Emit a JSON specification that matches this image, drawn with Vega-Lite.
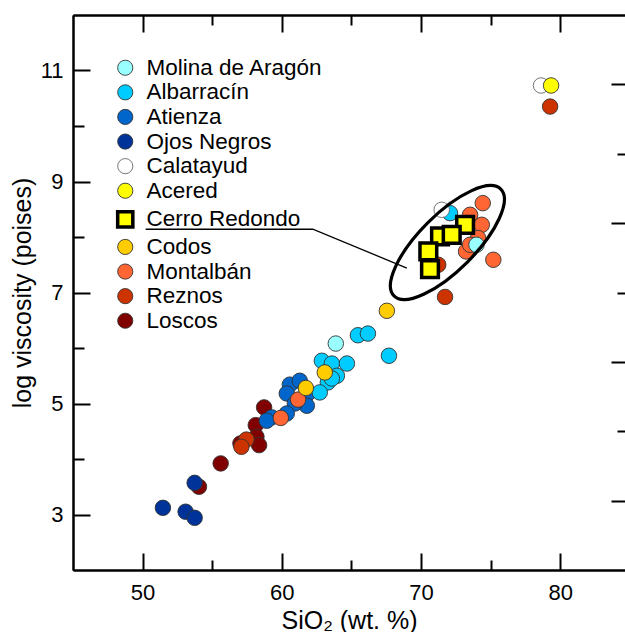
{
  "$schema": "https://vega.github.io/schema/vega-lite/v6.json",
  "width": 552,
  "height": 555,
  "autosize": "none",
  "padding": {"left": 73, "top": 15, "right": 0, "bottom": 62},
  "background": "white",
  "config": {
    "font": "Liberation Sans",
    "view": {"stroke": null},
    "axis": {
      "grid": false,
      "domainColor": "black",
      "domainWidth": 2,
      "tickColor": "black",
      "tickWidth": 2,
      "labelColor": "black",
      "labelFont": "Liberation Sans",
      "labelFontSize": 22,
      "titleFont": "Liberation Sans",
      "titleFontSize": 25,
      "titleFontWeight": "normal",
      "titleColor": "black"
    },
    "legend": {
      "orient": "none",
      "legendX": 41,
      "legendY": 41.5,
      "padding": 0,
      "labelFont": "Liberation Sans",
      "labelFontSize": 22.5,
      "labelColor": "black",
      "labelLimit": 0,
      "symbolSize": 230,
      "rowPadding": 1.6,
      "labelOffset": 10
    }
  },
  "datasets": {
    "circles": [
      {"site": "Loscos", "sio2": 58.73, "logv": 4.93},
      {"site": "Loscos", "sio2": 58.13, "logv": 4.61},
      {"site": "Loscos", "sio2": 58.18, "logv": 4.40},
      {"site": "Loscos", "sio2": 58.37, "logv": 4.25},
      {"site": "Loscos", "sio2": 57.03, "logv": 4.28},
      {"site": "Loscos", "sio2": 55.61, "logv": 3.92},
      {"site": "Loscos", "sio2": 54.05, "logv": 3.50},
      {"site": "Ojos Negros", "sio2": 53.74, "logv": 3.57},
      {"site": "Ojos Negros", "sio2": 51.46, "logv": 3.12},
      {"site": "Ojos Negros", "sio2": 53.09, "logv": 3.05},
      {"site": "Ojos Negros", "sio2": 53.74, "logv": 2.94},
      {"site": "Reznos", "sio2": 79.28, "logv": 10.35},
      {"site": "Reznos", "sio2": 71.24, "logv": 7.50},
      {"site": "Reznos", "sio2": 71.73, "logv": 6.92},
      {"site": "Reznos", "sio2": 57.46, "logv": 4.35},
      {"site": "Reznos", "sio2": 57.10, "logv": 4.22},
      {"site": "Atienza", "sio2": 60.58, "logv": 5.34},
      {"site": "Atienza", "sio2": 61.29, "logv": 5.41},
      {"site": "Atienza", "sio2": 60.36, "logv": 5.18},
      {"site": "Atienza", "sio2": 61.87, "logv": 5.18},
      {"site": "Atienza", "sio2": 61.80, "logv": 4.96},
      {"site": "Atienza", "sio2": 60.94, "logv": 5.00},
      {"site": "Atienza", "sio2": 59.28, "logv": 4.75},
      {"site": "Atienza", "sio2": 58.92, "logv": 4.69},
      {"site": "Atienza", "sio2": 60.36, "logv": 4.82},
      {"site": "Albarracín", "sio2": 72.09, "logv": 8.43},
      {"site": "Albarracín", "sio2": 65.47, "logv": 6.23},
      {"site": "Albarracín", "sio2": 66.19, "logv": 6.26},
      {"site": "Albarracín", "sio2": 67.70, "logv": 5.86},
      {"site": "Albarracín", "sio2": 62.88, "logv": 5.77},
      {"site": "Albarracín", "sio2": 63.60, "logv": 5.72},
      {"site": "Albarracín", "sio2": 64.68, "logv": 5.72},
      {"site": "Albarracín", "sio2": 63.96, "logv": 5.50},
      {"site": "Albarracín", "sio2": 63.31, "logv": 5.38},
      {"site": "Albarracín", "sio2": 62.73, "logv": 5.20},
      {"site": "Albarracín", "sio2": 63.60, "logv": 5.45},
      {"site": "Montalbán", "sio2": 74.44, "logv": 8.61},
      {"site": "Montalbán", "sio2": 73.53, "logv": 8.40},
      {"site": "Montalbán", "sio2": 74.37, "logv": 8.22},
      {"site": "Montalbán", "sio2": 74.11, "logv": 7.98},
      {"site": "Montalbán", "sio2": 73.24, "logv": 7.74},
      {"site": "Montalbán", "sio2": 75.20, "logv": 7.59},
      {"site": "Montalbán", "sio2": 73.53, "logv": 7.86},
      {"site": "Montalbán", "sio2": 61.17, "logv": 5.07},
      {"site": "Montalbán", "sio2": 59.93, "logv": 4.74},
      {"site": "Codos", "sio2": 67.55, "logv": 6.67},
      {"site": "Codos", "sio2": 63.09, "logv": 5.56},
      {"site": "Codos", "sio2": 61.73, "logv": 5.28},
      {"site": "Molina de Aragón", "sio2": 63.88, "logv": 6.08},
      {"site": "Molina de Aragón", "sio2": 73.99, "logv": 7.86},
      {"site": "Calatayud", "sio2": 78.63, "logv": 10.73},
      {"site": "Calatayud", "sio2": 71.49, "logv": 8.49},
      {"site": "Acered", "sio2": 79.35, "logv": 10.73}
    ],
    "squares": [
      {"site": "Cerro Redondo", "sio2": 73.17, "logv": 8.22},
      {"site": "Cerro Redondo", "sio2": 71.37, "logv": 8.01},
      {"site": "Cerro Redondo", "sio2": 72.21, "logv": 8.04},
      {"site": "Cerro Redondo", "sio2": 70.53, "logv": 7.74},
      {"site": "Cerro Redondo", "sio2": 70.65, "logv": 7.42}
    ],
    "ellipse": [
      {"sio2": 71.9, "logv": 7.90}
    ],
    "leader": [
      {"sio2": 50.22, "logv": 8.14},
      {"sio2": 62.23, "logv": 8.14},
      {"sio2": 68.99, "logv": 7.44}
    ]
  },
  "resolve": {"axis": {"x": "independent", "y": "independent"}},
  "layer": [
    {
      "data": {"name": "circles"},
      "mark": {"type": "point", "filled": true, "size": 240, "opacity": 1},
      "encoding": {
        "x": {
          "field": "sio2", "type": "quantitative",
          "scale": {"domain": [45, 84.66], "nice": false, "zero": false},
          "axis": {"orient": "bottom", "values": [50, 60, 70, 80], "tickSize": -17, "labelPadding": 29, "title": "SiO₂ (wt. %)", "titlePadding": 5}
        },
        "y": {
          "field": "logv", "type": "quantitative",
          "scale": {"domain": [2, 12], "nice": false, "zero": false},
          "axis": {"orient": "left", "values": [3, 5, 7, 9, 11], "tickSize": -17, "labelPadding": 27, "title": "log viscosity (poises)", "titlePadding": 5}
        },
        "color": {
          "field": "site", "type": "nominal", "title": null,
          "scale": {
            "domain": ["Molina de Aragón", "Albarracín", "Atienza", "Ojos Negros", "Calatayud", "Acered", "Cerro Redondo", "Codos", "Montalbán", "Reznos", "Loscos"],
            "range": ["#99FFFF", "#00CCFF", "#0066CC", "#003399", "#FFFFFF", "#FFFF00", "#FFFF00", "#FFCC00", "#FF6633", "#CC3300", "#800000"]
          }
        },
        "shape": {
          "field": "site", "type": "nominal", "title": null,
          "scale": {
            "domain": ["Molina de Aragón", "Albarracín", "Atienza", "Ojos Negros", "Calatayud", "Acered", "Cerro Redondo", "Codos", "Montalbán", "Reznos", "Loscos"],
            "range": ["circle", "circle", "circle", "circle", "circle", "circle", "square", "circle", "circle", "circle", "circle"]
          }
        },
        "stroke": {
          "field": "site", "type": "nominal", "title": null,
          "scale": {
            "domain": ["Molina de Aragón", "Albarracín", "Atienza", "Ojos Negros", "Calatayud", "Acered", "Cerro Redondo", "Codos", "Montalbán", "Reznos", "Loscos"],
            "range": ["#333333", "#333333", "#333333", "#333333", "#666666", "#333333", "#000000", "#333333", "#333333", "#333333", "#333333"]
          }
        },
        "strokeWidth": {
          "field": "site", "type": "nominal", "title": null,
          "scale": {
            "type": "ordinal",
            "domain": ["Molina de Aragón", "Albarracín", "Atienza", "Ojos Negros", "Calatayud", "Acered", "Cerro Redondo", "Codos", "Montalbán", "Reznos", "Loscos"],
            "range": [0.9, 0.9, 0.9, 0.9, 0.9, 0.9, 3.5, 0.9, 0.9, 0.9, 0.9]
          }
        }
      }
    },
    {
      "data": {"name": "ellipse"},
      "mark": {"type": "point", "shape": "M-1,0A1,0.37,0,1,1,1,0A1,0.37,0,1,1,-1,0Z", "size": 22801, "angle": 315, "filled": false, "stroke": "black", "strokeWidth": 3.2, "opacity": 1},
      "encoding": {
        "x": {
          "field": "sio2", "type": "quantitative",
          "scale": {"domain": [45, 84.66], "nice": false, "zero": false},
          "axis": {"orient": "top", "values": [50, 60, 70, 80], "tickSize": -17, "labels": false, "title": null}
        },
        "y": {
          "field": "logv", "type": "quantitative",
          "scale": {"domain": [2, 12], "nice": false, "zero": false},
          "axis": {"orient": "right", "values": [10.75, 8.25, 5.75, 3.25], "tickSize": -14, "labels": false, "domain": false, "title": null}
        }
      }
    },
    {
      "data": {"name": "leader"},
      "mark": {"type": "line", "color": "black", "strokeWidth": 1.3},
      "encoding": {
        "x": {
          "field": "sio2", "type": "quantitative",
          "scale": {"domain": [45, 84.66], "nice": false, "zero": false},
          "axis": {"orient": "top", "values": [55, 65, 75], "tickSize": -10, "labels": false, "title": null}
        },
        "y": {
          "field": "logv", "type": "quantitative",
          "scale": {"domain": [2, 12], "nice": false, "zero": false},
          "axis": {"orient": "right", "values": [9.5, 7, 4.5], "tickSize": -8, "labels": false, "domain": false, "title": null}
        }
      }
    },
    {
      "data": {"name": "squares"},
      "mark": {"type": "point", "filled": true, "size": 280, "opacity": 1},
      "encoding": {
        "x": {
          "field": "sio2", "type": "quantitative",
          "scale": {"domain": [45, 84.66], "nice": false, "zero": false},
          "axis": {"orient": "bottom", "values": [55, 65, 75], "tickSize": -10, "labels": false, "title": null}
        },
        "y": {
          "field": "logv", "type": "quantitative",
          "scale": {"domain": [2, 12], "nice": false, "zero": false},
          "axis": {"orient": "left", "values": [4, 6, 8, 10], "tickSize": -11, "labels": false, "title": null}
        },
        "color": {"field": "site", "type": "nominal", "title": null},
        "shape": {"field": "site", "type": "nominal", "title": null},
        "stroke": {"field": "site", "type": "nominal", "title": null},
        "strokeWidth": {"field": "site", "type": "nominal", "title": null, "scale": {"type": "ordinal"}}
      }
    }
  ]
}
